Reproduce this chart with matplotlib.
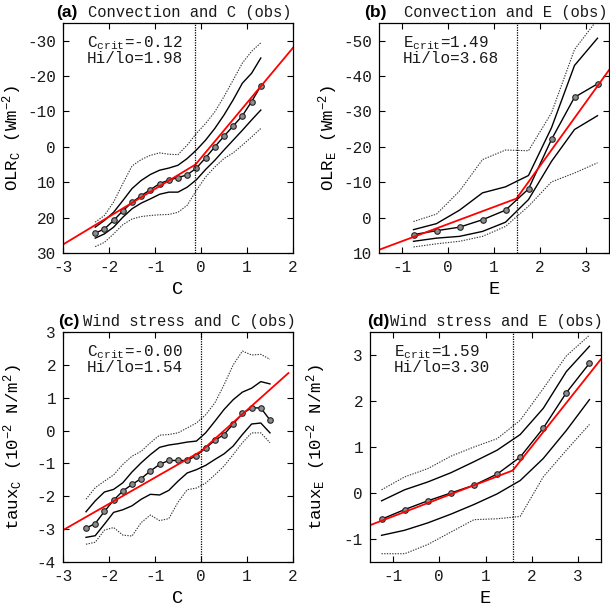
import numpy as np
import matplotlib
matplotlib.use('Agg')
import matplotlib.pyplot as plt

plt.rcParams['font.family'] = ['Liberation Mono', 'DejaVu Sans Mono']
plt.rcParams['mathtext.fontset'] = 'custom'
plt.rcParams['mathtext.rm'] = 'Liberation Mono'
plt.rcParams['mathtext.it'] = 'Liberation Mono'
plt.rcParams['axes.unicode_minus'] = False
plt.rcParams['text.color'] = '#1a1a1a'
plt.rcParams['xtick.labelcolor'] = '#1a1a1a'
plt.rcParams['ytick.labelcolor'] = '#1a1a1a'

# ---- panel (a): OLR vs C ----
a_x = [-2.3, -2.1, -1.9, -1.7, -1.5, -1.3, -1.1, -0.9, -0.7, -0.5,
       -0.3, -0.1, 0.1, 0.3, 0.5, 0.7, 0.9, 1.1, 1.3]
a_mid = [24.4, 23.2, 20.8, 18.1, 15.7, 13.8, 12.1, 10.4, 9.4, 8.7,
         7.9, 6.0, 3.1, 0.0, -3.0, -5.9, -8.8, -12.8, -17.2]
a_hi1 = [22.7, 20.8, 18.5, 15.2, 11.8, 9.5, 7.8, 6.6, 6.0, 5.2,
         3.3, 0.9, -1.9, -5.2, -9.0, -13.3, -18.0, -20.8, -25.1]
a_lo1 = [25.8, 24.6, 22.7, 19.9, 17.5, 15.9, 14.7, 13.4, 12.8, 12.8,
         11.4, 9.3, 6.4, 3.8, 0.9, -1.9, -4.7, -7.6, -10.4]
a_hi2 = [21.3, 19.4, 15.6, 10.4, 5.4, 3.6, 2.4, 1.7, 2.1, 2.2,
         -0.5, -3.8, -6.6, -9.9, -14.2, -18.9, -23.7, -27.0, -29.4]
a_lo2 = [28.2, 27.0, 24.6, 22.0, 20.4, 19.7, 19.4, 19.2, 19.1, 18.5,
         16.5, 12.3, 8.5, 5.7, 3.3, 1.7, -0.5, -2.8, -5.2]
a_fit_x = [-3.0, -0.12, 2.0]
a_fit_y = [27.6, 5.0, -28.0]
a_crit = -0.12

# ---- panel (b): OLR vs E ----
b_x = [-0.75, -0.25, 0.25, 0.75, 1.25, 1.75, 2.25, 2.75, 3.25]
b_mid = [4.8, 3.7, 2.7, 0.6, -2.1, -8.1, -22.1, -34.0, -37.8]
b_hi1 = [3.4, 1.7, -2.1, -7.0, -8.7, -11.9, -25.4, -43.0, -50.7]
b_lo1 = [6.7, 5.8, 5.3, 3.9, 1.3, -5.1, -15.9, -24.9, -28.8]
b_hi2 = [1.1, -1.0, -7.5, -16.4, -19.1, -18.9, -29.6, -47.5, -56.0]
b_lo2 = [8.3, 7.4, 6.7, 5.3, 2.5, -3.2, -10.1, -12.6, -15.5]
b_fit_x = [-1.5, 1.49, 3.5]
b_fit_y = [9.1, -5.4, -41.7]
b_crit = 1.49

# ---- panel (c): wind stress vs C ----
c_x = [-2.5, -2.3, -2.1, -1.9, -1.7, -1.5, -1.3, -1.1, -0.9, -0.7, -0.5,
       -0.3, -0.1, 0.1, 0.3, 0.5, 0.7, 0.9, 1.1, 1.3, 1.5]
c_mid = [-2.97, -2.83, -2.46, -2.12, -1.84, -1.64, -1.46, -1.23, -1.03, -0.91, -0.91,
         -0.91, -0.76, -0.53, -0.30, -0.12, 0.20, 0.52, 0.69, 0.69, 0.32]
c_hi1 = [-2.47, -2.14, -1.87, -1.79, -1.59, -1.26, -0.98, -0.73, -0.51, -0.44, -0.40,
         -0.35, -0.32, -0.07, 0.28, 0.64, 0.94, 1.17, 1.29, 1.49, 1.42]
c_lo1 = [-3.25, -3.20, -2.85, -2.49, -2.41, -2.29, -2.09, -1.94, -1.96, -1.82, -1.54,
         -1.29, -1.19, -1.06, -0.88, -0.71, -0.47, -0.12, 0.20, 0.23, -0.07]
c_hi2 = [-2.09, -1.74, -1.54, -1.35, -1.03, -0.78, -0.63, -0.37, -0.14, -0.12, -0.07,
         0.08, 0.23, 0.48, 0.84, 1.39, 2.00, 2.42, 2.30, 2.32, 2.17]
c_lo2 = [-3.46, -3.40, -3.03, -2.95, -3.18, -3.21, -2.80, -2.57, -2.74, -2.68, -2.18,
         -1.80, -1.75, -1.60, -1.35, -1.08, -0.73, -0.37, -0.07, -0.07, -0.37]
c_fit_x = [-3.0, 0.0, 1.9]
c_fit_y = [-3.03, -0.63, 1.75]
c_crit = 0.0

# ---- panel (d): wind stress vs E ----
d_x = [-1.25, -0.75, -0.25, 0.25, 0.75, 1.25, 1.75, 2.25, 2.75, 3.25]
d_mid = [-0.57, -0.36, -0.17, 0.00, 0.17, 0.41, 0.78, 1.41, 2.18, 2.82]
d_hi1 = [-0.17, 0.07, 0.24, 0.44, 0.68, 0.93, 1.27, 1.84, 2.64, 3.19]
d_lo1 = [-0.92, -0.81, -0.65, -0.46, -0.25, -0.02, 0.27, 0.75, 1.36, 2.03]
d_hi2 = [0.07, 0.35, 0.53, 0.80, 1.00, 1.18, 1.58, 2.27, 2.98, 3.43]
d_lo2 = [-1.32, -1.32, -1.12, -0.85, -0.58, -0.56, -0.51, 0.35, 0.93, 1.49]
d_fit_x = [-1.5, 1.59, 3.5]
d_fit_y = [-0.70, 0.49, 2.91]
d_crit = 1.59

W, H = 610, 608
fig = plt.figure(figsize=(W / 100, H / 100), dpi=100)


def px_axes(l, t, r, b):
    return fig.add_axes([l / W, 1 - b / H, (r - l) / W, (b - t) / H])


def draw_panel(ax, x, mid, hi1, lo1, hi2, lo2, fx, fy, crit):
    ax.plot(x, hi2, color='#333333', lw=0.8, ls=(0, (1.2, 1.2)))
    ax.plot(x, lo2, color='#333333', lw=0.8, ls=(0, (1.2, 1.2)))
    ax.plot(x, hi1, color='k', lw=1.0)
    ax.plot(x, lo1, color='k', lw=1.0)
    ax.plot(x, mid, color='k', lw=1.0, marker='o', ms=4,
            mfc='#8c8c8c', mec='#222222', mew=0.8)
    ax.plot(fx, fy, color='red', lw=1.3)
    ax.axvline(crit, color='k', lw=0.9, ls=(0, (1, 1)))
    ax.tick_params(direction='in', top=True, right=True, length=4,
                   width=0.8, labelsize=11.5, pad=5)
    for s in ax.spines.values():
        s.set_linewidth(0.9)


ax_a = px_axes(63, 23, 293, 253)
draw_panel(ax_a, a_x, a_mid, a_hi1, a_lo1, a_hi2, a_lo2, a_fit_x, a_fit_y, a_crit)
ax_a.set_xlim(-3, 2)
ax_a.set_ylim(30, -35)
ax_a.set_yticks([30, 20, 10, 0, -10, -20, -30])
ax_a.set_xticks([-3, -2, -1, 0, 1, 2])

ax_b = px_axes(379, 23, 609, 253)
draw_panel(ax_b, b_x, b_mid, b_hi1, b_lo1, b_hi2, b_lo2, b_fit_x, b_fit_y, b_crit)
ax_b.set_xlim(-1.5, 3.5)
ax_b.set_ylim(10, -55)
ax_b.set_yticks([10, 0, -10, -20, -30, -40, -50])
ax_b.set_xticks([-1, 0, 1, 2, 3])

ax_c = px_axes(63, 332, 293, 562)
draw_panel(ax_c, c_x, c_mid, c_hi1, c_lo1, c_hi2, c_lo2, c_fit_x, c_fit_y, c_crit)
ax_c.set_xlim(-3, 2)
ax_c.set_ylim(-4, 3)
ax_c.set_yticks([-4, -3, -2, -1, 0, 1, 2, 3])
ax_c.set_xticks([-3, -2, -1, 0, 1, 2])

ax_d = px_axes(370, 332, 601, 562)
draw_panel(ax_d, d_x, d_mid, d_hi1, d_lo1, d_hi2, d_lo2, d_fit_x, d_fit_y, d_crit)
ax_d.set_xlim(-1.5, 3.5)
ax_d.set_ylim(-1.5, 3.5)
ax_d.set_yticks([-1, 0, 1, 2, 3])
ax_d.set_xticks([-1, 0, 1, 2, 3])

# axis labels
ylabels = [r'OLR$_\mathrm{C}$ (Wm$^{-2}$)', r'OLR$_\mathrm{E}$ (Wm$^{-2}$)',
           r'taux$_\mathrm{C}$ (10$^{-2}$ N/m$^2$)', r'taux$_\mathrm{E}$ (10$^{-2}$ N/m$^2$)']
xlabels = ['C', 'E', 'C', 'E']
ylab_x = [-0.17, -0.17, -0.165, -0.18]
for ax, yl, xl, lx in zip([ax_a, ax_b, ax_c, ax_d], ylabels, xlabels, ylab_x):
    ax.set_ylabel(yl, fontsize=12.5)
    ax.yaxis.set_label_coords(lx, 0.5)
    ax.set_xlabel(xl, fontsize=13.5)
    ax.xaxis.set_label_coords(0.5, -0.12)

# crit / ratio annotations
notes = [(ax_a, r'C$_\mathrm{crit}$=-0.12', 'Hi/lo=1.98'),
         (ax_b, r'E$_\mathrm{crit}$=1.49', 'Hi/lo=3.68'),
         (ax_c, r'C$_\mathrm{crit}$=-0.00', 'Hi/lo=1.54'),
         (ax_d, r'E$_\mathrm{crit}$=1.59', 'Hi/lo=3.30')]
for ax, l1, l2 in notes:
    ax.text(0.104, 0.896, l1, transform=ax.transAxes, fontsize=11.5, va='baseline')
    ax.text(0.104, 0.826, l2, transform=ax.transAxes, fontsize=11.5, va='baseline')

# panel titles (pixel positions of the letter and text)
titles = [(56, 88, 17, '(a)', 'Convection and C (obs)'),
          (364, 404, 17, '(b)', 'Convection and E (obs)'),
          (58, 83, 326, '(c)', 'Wind stress and C (obs)'),
          (367, 390, 326, '(d)', 'Wind stress and E (obs)')]
for lx, tx, ty, lab, txt in titles:
    fig.text(lx / W, 1 - ty / H, lab, fontsize=12.5, fontweight='bold',
             family='Liberation Sans', va='baseline', color='k')
    fig.text(tx / W, 1 - ty / H, txt, fontsize=11.2, va='baseline')

fig.savefig('out.png', dpi=100)
